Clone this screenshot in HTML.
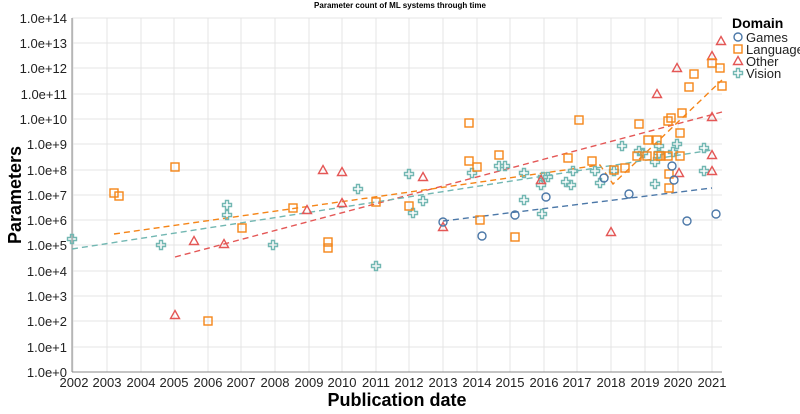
<!DOCTYPE html>
<html><head><meta charset="utf-8"><style>
body{margin:0;background:#fff}
svg{display:block;font-family:"Liberation Sans",sans-serif}
</style></head><body>
<svg width="800" height="414" viewBox="0 0 800 414" xmlns="http://www.w3.org/2000/svg">
<defs>
<circle id="g" r="4" fill="none" stroke="#4c78a8" stroke-width="1.4"/>
<rect id="l" x="-4" y="-4" width="8" height="8" fill="none" stroke="#f58518" stroke-width="1.4"/>
<path id="o" d="M0,-4.5L4.5,3.5L-4.5,3.5Z" fill="none" stroke="#e45756" stroke-width="1.4"/>
<path id="v" d="M-1.5,-4.5H1.5V-1.5H4.5V1.5H1.5V4.5H-1.5V1.5H-4.5V-1.5H-1.5Z" fill="none" stroke="#72b7b2" stroke-width="1.4"/>
</defs>
<text x="400" y="8" font-size="8" font-weight="bold" text-anchor="middle">Parameter count of ML systems through time</text>
<g stroke="#e4e4e4" stroke-width="1">
<line x1="73" y1="18" x2="73" y2="372"/><line x1="107" y1="18" x2="107" y2="372"/><line x1="141" y1="18" x2="141" y2="372"/><line x1="174" y1="18" x2="174" y2="372"/><line x1="208" y1="18" x2="208" y2="372"/><line x1="241" y1="18" x2="241" y2="372"/><line x1="275" y1="18" x2="275" y2="372"/><line x1="309" y1="18" x2="309" y2="372"/><line x1="342" y1="18" x2="342" y2="372"/><line x1="376" y1="18" x2="376" y2="372"/><line x1="409" y1="18" x2="409" y2="372"/><line x1="443" y1="18" x2="443" y2="372"/><line x1="477" y1="18" x2="477" y2="372"/><line x1="510" y1="18" x2="510" y2="372"/><line x1="544" y1="18" x2="544" y2="372"/><line x1="577" y1="18" x2="577" y2="372"/><line x1="611" y1="18" x2="611" y2="372"/><line x1="645" y1="18" x2="645" y2="372"/><line x1="678" y1="18" x2="678" y2="372"/><line x1="712" y1="18" x2="712" y2="372"/>
<line x1="72" y1="18" x2="722" y2="18"/><line x1="72" y1="43" x2="722" y2="43"/><line x1="72" y1="68" x2="722" y2="68"/><line x1="72" y1="94" x2="722" y2="94"/><line x1="72" y1="119" x2="722" y2="119"/><line x1="72" y1="144" x2="722" y2="144"/><line x1="72" y1="170" x2="722" y2="170"/><line x1="72" y1="195" x2="722" y2="195"/><line x1="72" y1="220" x2="722" y2="220"/><line x1="72" y1="245" x2="722" y2="245"/><line x1="72" y1="271" x2="722" y2="271"/><line x1="72" y1="296" x2="722" y2="296"/><line x1="72" y1="321" x2="722" y2="321"/><line x1="72" y1="347" x2="722" y2="347"/>
</g>
<g stroke="#888" stroke-width="1"><line x1="72" y1="18" x2="72" y2="372"/><line x1="72" y1="372" x2="722" y2="372"/></g>
<g font-size="13" fill="#222" text-anchor="end">
<text x="67" y="23">1.0e+14</text><text x="67" y="48">1.0e+13</text><text x="67" y="73">1.0e+12</text><text x="67" y="99">1.0e+11</text><text x="67" y="124">1.0e+10</text><text x="67" y="149">1.0e+9</text><text x="67" y="175">1.0e+8</text><text x="67" y="200">1.0e+7</text><text x="67" y="225">1.0e+6</text><text x="67" y="250">1.0e+5</text><text x="67" y="276">1.0e+4</text><text x="67" y="301">1.0e+3</text><text x="67" y="326">1.0e+2</text><text x="67" y="352">1.0e+1</text><text x="67" y="377">1.0e+0</text>
</g>
<g font-size="13" fill="#222" text-anchor="middle">
<text x="74" y="387">2002</text><text x="107" y="387">2003</text><text x="141" y="387">2004</text><text x="174" y="387">2005</text><text x="208" y="387">2006</text><text x="241" y="387">2007</text><text x="275" y="387">2008</text><text x="309" y="387">2009</text><text x="342" y="387">2010</text><text x="376" y="387">2011</text><text x="409" y="387">2012</text><text x="443" y="387">2013</text><text x="477" y="387">2014</text><text x="510" y="387">2015</text><text x="544" y="387">2016</text><text x="577" y="387">2017</text><text x="611" y="387">2018</text><text x="645" y="387">2019</text><text x="678" y="387">2020</text><text x="712" y="387">2021</text>
</g>
<text x="397" y="406" font-size="18" font-weight="bold" text-anchor="middle">Publication date</text>
<text transform="translate(21,195) rotate(-90)" font-size="18" font-weight="bold" text-anchor="middle">Parameters</text>
<g fill="none" stroke-width="1.4" stroke-dasharray="6,4">
<line x1="443" y1="221" x2="712" y2="188" stroke="#4c78a8"/>
<line x1="175" y1="257" x2="722" y2="112" stroke="#e45756"/>
<polyline points="114,234 600,165 613,184 722,80" stroke="#f58518"/>
<line x1="72" y1="249" x2="712" y2="150" stroke="#72b7b2"/>
</g>
<g>
<use href="#v" x="72" y="239"/><use href="#v" x="161" y="245"/><use href="#v" x="227" y="205"/><use href="#v" x="227" y="215"/><use href="#v" x="273" y="245"/><use href="#v" x="376" y="266"/><use href="#v" x="358" y="189"/><use href="#v" x="413" y="213"/><use href="#v" x="423" y="201"/><use href="#v" x="409" y="174"/><use href="#v" x="472" y="173"/><use href="#v" x="499" y="166"/><use href="#v" x="505" y="166"/><use href="#v" x="524" y="173"/><use href="#v" x="524" y="200"/><use href="#v" x="541" y="185"/><use href="#v" x="543" y="177"/><use href="#v" x="548" y="177"/><use href="#v" x="542" y="214"/><use href="#v" x="566" y="182"/><use href="#v" x="571" y="185"/><use href="#v" x="573" y="171"/><use href="#v" x="595" y="171"/><use href="#v" x="600" y="183"/><use href="#v" x="614" y="171"/><use href="#v" x="622" y="146"/><use href="#v" x="639" y="151"/><use href="#v" x="643" y="153"/><use href="#v" x="655" y="162"/><use href="#v" x="655" y="184"/><use href="#v" x="659" y="146"/><use href="#v" x="659" y="153"/><use href="#v" x="673" y="152"/><use href="#v" x="677" y="144"/><use href="#v" x="704" y="148"/><use href="#v" x="704" y="171"/>
<use href="#o" x="323" y="170"/><use href="#o" x="342" y="172"/><use href="#o" x="175" y="315"/><use href="#o" x="194" y="241"/><use href="#o" x="224" y="244"/><use href="#o" x="307" y="210"/><use href="#o" x="342" y="203"/><use href="#o" x="443" y="227"/><use href="#o" x="611" y="232"/><use href="#o" x="423" y="177"/><use href="#o" x="541" y="180"/><use href="#o" x="657" y="94"/><use href="#o" x="677" y="68"/><use href="#o" x="712" y="56"/><use href="#o" x="721" y="41"/><use href="#o" x="712" y="117"/><use href="#o" x="712" y="155"/><use href="#o" x="712" y="171"/><use href="#o" x="679" y="173"/>
<use href="#l" x="114" y="193"/><use href="#l" x="119" y="196"/><use href="#l" x="175" y="167"/><use href="#l" x="208" y="321"/><use href="#l" x="242" y="228"/><use href="#l" x="293" y="208"/><use href="#l" x="328" y="242"/><use href="#l" x="328" y="248"/><use href="#l" x="376" y="202"/><use href="#l" x="409" y="206"/><use href="#l" x="480" y="220"/><use href="#l" x="515" y="237"/><use href="#l" x="469" y="123"/><use href="#l" x="469" y="161"/><use href="#l" x="477" y="167"/><use href="#l" x="499" y="155"/><use href="#l" x="568" y="158"/><use href="#l" x="592" y="161"/><use href="#l" x="614" y="170"/><use href="#l" x="625" y="168"/><use href="#l" x="639" y="124"/><use href="#l" x="648" y="140"/><use href="#l" x="657" y="140"/><use href="#l" x="637" y="156"/><use href="#l" x="647" y="156"/><use href="#l" x="658" y="156"/><use href="#l" x="661" y="156"/><use href="#l" x="668" y="156"/><use href="#l" x="668" y="121"/><use href="#l" x="671" y="118"/><use href="#l" x="682" y="113"/><use href="#l" x="680" y="133"/><use href="#l" x="680" y="156"/><use href="#l" x="669" y="174"/><use href="#l" x="669" y="188"/><use href="#l" x="689" y="87"/><use href="#l" x="694" y="74"/><use href="#l" x="712" y="63"/><use href="#l" x="720" y="68"/><use href="#l" x="722" y="86"/><use href="#l" x="579" y="120"/>
<use href="#g" x="546" y="197"/><use href="#g" x="604" y="178"/><use href="#g" x="629" y="194"/><use href="#g" x="672" y="166"/><use href="#g" x="674" y="180"/><use href="#g" x="443" y="222"/><use href="#g" x="482" y="236"/><use href="#g" x="515" y="215"/><use href="#g" x="687" y="221"/><use href="#g" x="716" y="214"/>
</g>
<text x="732" y="28" font-size="14" font-weight="bold">Domain</text>
<use href="#g" x="738" y="37"/><use href="#l" x="738" y="49"/><use href="#o" x="738" y="61"/><use href="#v" x="738" y="73"/>
<g font-size="13" fill="#222"><text x="746" y="42">Games</text><text x="746" y="54">Language</text><text x="746" y="66">Other</text><text x="746" y="78">Vision</text></g>
</svg>
</body></html>
